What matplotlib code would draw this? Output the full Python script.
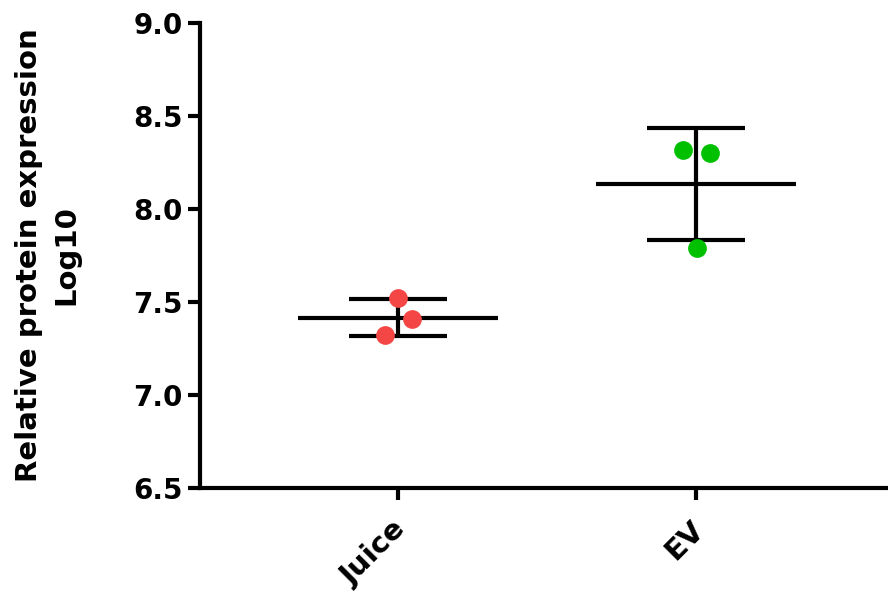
import matplotlib

matplotlib.use("Agg")
import matplotlib.pyplot as plt
import matplotlib.transforms as mtransforms
import numpy as np

plt.rcParams["font.family"] = ["DejaVu Sans"]
plt.rcParams["font.weight"] = "bold"

groups = ["Juice", "EV"]
juice_vals = [7.52, 7.407, 7.323]
ev_vals = [8.317, 8.301, 7.789]
juice_jitter = [0.0, 0.046, -0.045]
ev_jitter = [-0.045, 0.048, 0.002]
colors = ["#F54646", "#00C000"]

fig = plt.figure(figsize=(8.88, 5.97), dpi=100)
ax = fig.add_axes([200 / 888, 109 / 597, 688 / 888, 465 / 597])

for i, (vals, jit, c) in enumerate([(juice_vals, juice_jitter, colors[0]),
                                    (ev_vals, ev_jitter, colors[1])]):
    vals = np.array(vals)
    m = vals.mean()
    sd = vals.std(ddof=1)
    ax.plot(i + np.array(jit), vals, "o", color=c, ms=13.5, mec="none", zorder=3)
    ax.plot([i - 0.335, i + 0.335], [m, m], color="black", lw=3, solid_capstyle="butt", zorder=2)
    ax.plot([i, i], [m - sd, m + sd], color="black", lw=3, solid_capstyle="butt", zorder=2)
    for y in (m - sd, m + sd):
        ax.plot([i - 0.165, i + 0.165], [y, y], color="black", lw=3, solid_capstyle="butt", zorder=2)

ax.set_xlim(-0.664, 1.644)
ax.set_ylim(6.5, 9.0)
ax.set_yticks([6.5, 7.0, 7.5, 8.0, 8.5, 9.0])
ax.set_yticklabels(["6.5", "7.0", "7.5", "8.0", "8.5", "9.0"])
ax.set_xticks([0, 1])
ax.set_xticklabels(groups, rotation=45, ha="right", rotation_mode="anchor", fontsize=21)

for s in ("top", "right"):
    ax.spines[s].set_visible(False)
for s in ("left", "bottom"):
    ax.spines[s].set_linewidth(3)
ax.tick_params(axis="both", width=3, length=8.6, colors="black")
ax.tick_params(axis="y", pad=4, labelsize=20)
ax.tick_params(axis="x", pad=8)
shift = mtransforms.ScaledTranslation(-6 / 100, -4 / 100, fig.dpi_scale_trans)
for lbl in ax.get_xticklabels():
    lbl.set_fontweight("bold")
    lbl.set_transform(lbl.get_transform() + shift)
for lbl in ax.get_yticklabels():
    lbl.set_fontweight("bold")

ax.set_ylabel("Relative protein expression\nLog10", fontsize=21, fontweight="bold",
              labelpad=38, linespacing=1.4)

fig.savefig("out.png", dpi=100, facecolor="white")
